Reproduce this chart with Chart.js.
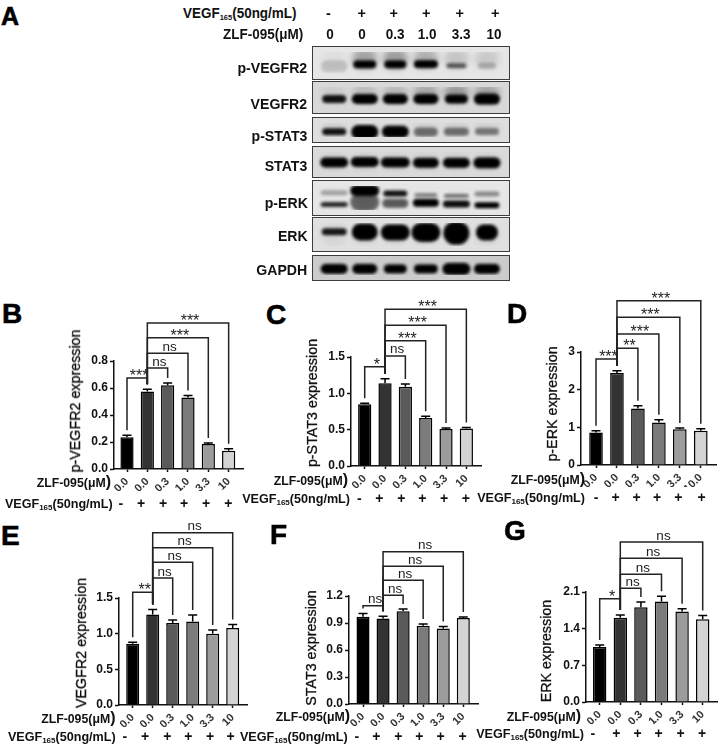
<!DOCTYPE html>
<html>
<head>
<meta charset="utf-8">
<script src="https://cdn.jsdelivr.net/npm/chart.js@4"></script>
<style>
  html, body { margin: 0; padding: 0; background: #fff; }
  #page { position: relative; width: 719px; height: 745px; overflow: hidden; font-family: "Liberation Sans", Arial, sans-serif; color: #111; }
  #page canvas { position: absolute; }
  .t { position: absolute; white-space: nowrap; font-weight: bold; z-index: 2; }
  .t sub { font-size: 8px; vertical-align: -2px; line-height: 0; }
  .t span { font-size: 16px; line-height: 0; }
</style>
</head>
<body>
<div id="page"></div>
<script>
// shared categories
const lanes = [0, 1, 2, 3, 4, 5];
const doses = ['0.0', '0.0', '0.3', '1.0', '3.3', '10'];
const dosesD = ['0.0', '0.0', '0.3', '1.0', '3.3', '10.0'];
const signs = ['-', '+', '+', '+', '+', '+'];
const headerDoses = ['0', '0', '0.3', '1.0', '3.3', '10'];
const bracketFrom = [0, 1, 1, 1, 1];
const bracketTo = [1, 2, 3, 4, 5];

// bar values, error bars, y ticks, bracket heights and labels
const bValues = [0.235, 0.575, 0.62, 0.53, 0.185, 0.135];
const bErrors = [0.015, 0.015, 0.017, 0.015, 0.008, 0.015];
const bTicks = [0, 0.2, 0.4, 0.6, 0.8];
const bLevels = [0.675, 0.748, 0.857, 0.972, 1.081];
const bStars = ['***', 'ns', 'ns', '***', '***'];
const bSignAt = [-0.3, 0.69, 1.77, 2.81, 3.89, 4.98];

const cValues = [0.85, 1.14, 1.09, 0.66, 0.51, 0.515];
const cErrors = [0.015, 0.06, 0.04, 0.025, 0.012, 0.015];
const cTicks = [0, 0.5, 1, 1.5];
const cLevels = [1.367, 1.514, 1.725, 1.936, 2.156];
const cStars = ['*', 'ns', '***', '***', '***'];
const cSignAt = [-0.27, 0.72, 1.8, 2.83, 3.9, 4.98];

const dValues = [0.86, 2.44, 1.5, 1.13, 0.95, 0.91];
const dErrors = [0.05, 0.06, 0.07, 0.07, 0.03, 0.05];
const dTicks = [0, 1, 2, 3];
const dLevels = [2.814, 3.097, 3.478, 3.92, 4.363];
const dStars = ['***', '**', '***', '***', '***'];
const dSignAt = [0, 0.94, 1.94, 2.92, 3.93, 5.04];

const eValues = [0.86, 1.27, 1.15, 1.17, 1.0, 1.08];
const eErrors = [0.02, 0.07, 0.04, 0.09, 0.05, 0.05];
const eTicks = [0, 0.5, 1, 1.5];
const eLevels = [1.579, 1.78, 2.0, 2.206, 2.416];
const eStars = ['**', 'ns', 'ns', 'ns', 'ns'];
const eSignAt = [-0.39, 0.62, 1.73, 2.78, 3.87, 4.9];

const fValues = [0.97, 0.95, 1.03, 0.87, 0.84, 0.955];
const fErrors = [0.035, 0.025, 0.025, 0.018, 0.02, 0.012];
const fTicks = [0, 0.3, 0.6, 0.9, 1.2];
const fLevels = [1.093, 1.208, 1.375, 1.531, 1.691];
const fStars = ['ns', 'ns', 'ns', 'ns', 'ns'];
const fSignAt = [-0.31, 0.66, 1.76, 2.81, 3.87, 4.97];

const gValues = [1.05, 1.61, 1.81, 1.92, 1.73, 1.58];
const gErrors = [0.04, 0.05, 0.1, 0.1, 0.05, 0.07];
const gTicks = [0, 0.7, 1.4, 2.1];
const gLevels = [1.973, 2.17, 2.437, 2.743, 3.054];
const gStars = ['*', 'ns', 'ns', 'ns', 'ns'];
const gSignAt = [-0.33, 0.81, 1.84, 2.86, 3.93, 4.97];

// blot band intensities per lane
const pVegfr2Band = [0.16, 1, 1, 1, 0.6, 0.22];
const vegfr2Band = [0.92, 1, 1, 1, 1, 1];
const pStat3Band = [0.92, 1, 1, 0.5, 0.5, 0.45];
const stat3Band = [1, 1, 1, 1, 1, 1];
const pErkUpperBand = [0.3, 1, 0.92, 0.45, 0.5, 0.4];
const pErkLowerBand = [0.82, 0.55, 0.6, 1, 0.95, 1];
const erkBand = [0.9, 1, 1, 1, 1, 1];
const gapdhBand = [1, 1, 1, 1, 1, 1];

const barColors = ['#000000', '#333333', '#5a5a5a', '#7b7b7b', '#9c9c9f', '#d4d4d4'];
const page = document.getElementById('page');

function addText(html, x, y, size, extra) {
    let el = document.createElement('div');
    el.className = 't';
    el.innerHTML = html;
    el.style.cssText = 'top:' + y + 'px;font-size:' + size + 'px;transform:translateY(-50%);' + (extra || '');
    // negative x means: right edge sits at that page x
    if (x < 0) el.style.right = (719 + x) + 'px';
    else el.style.left = x + 'px';
    page.appendChild(el);
    return el;
}

// blurred band used as a point image
function bandImage(w, h, dark, blur) {
    let c = document.createElement('canvas');
    let pad = Math.ceil(blur * 3);
    c.width = w + pad * 2;
    c.height = h + pad * 2;
    let g = c.getContext('2d');
    g.filter = 'blur(' + blur + 'px)';
    g.fillStyle = 'rgba(0,0,0,' + dark + ')';
    g.beginPath();
    g.roundRect(pad, pad, w, h, Math.min(h / 2, w / 2));
    g.fill();
    return c;
}

function blotChart(row) {
    let canvas = document.createElement('canvas');
    canvas.width = 196;
    canvas.height = row.bottom - row.top;
    canvas.style.cssText = 'left:313px;top:' + row.top + 'px;background:' + row.bg + ';outline:1.5px solid #3c3c3c;';
    page.appendChild(canvas);
    let datasets = [{
        data: lanes.map(i => ({ x: i, y: row.smearY })),
        pointStyle: lanes.map(i => bandImage(25, row.smearH, row.smear[i], 3.5)),
    }];
    row.bands.forEach(b => {
        datasets.push({
            data: lanes.map(i => ({ x: i, y: b.y[i] })),
            pointStyle: lanes.map(i => bandImage(b.w[i] + 1, b.h[i] + 1, b.dark[i], 1.6)),
        });
    });
    new Chart(canvas, {
        type: 'scatter',
        data: { datasets: datasets },
        options: {
            responsive: false,
            animation: false,
            plugins: { legend: { display: false }, tooltip: { enabled: false } },
            scales: {
                x: { type: 'linear', display: false, min: -0.53, max: 5.56 },
                y: { type: 'linear', display: false, min: 0, max: 1, reverse: true },
            },
        },
    });
    addText(row.name, -307.5, row.labelY, 15, 'transform:translateY(-50%) scaleX(.94);transform-origin:right center;');
}

const same = v => lanes.map(() => v);
const blotRows = [
    { name: 'p-VEGFR2', top: 47, bottom: 79, labelY: 67, bg: '#e6e6e6', smear: [0.03, 0.3, 0.32, 0.24, 0.14, 0.12], smearY: 0.3, smearH: 20,
      bands: [{ y: [0.64, 0.56, 0.56, 0.55, 0.62, 0.62], dark: pVegfr2Band, w: [26, 22, 21, 23, 19, 17], h: [11, 7, 7, 7, 4, 5] }] },
    { name: 'VEGFR2', top: 82, bottom: 113, labelY: 103, bg: '#d8d8d8', smear: [0.06, 0.14, 0.16, 0.24, 0.3, 0.26], smearY: 0.3, smearH: 18,
      bands: [{ y: same(0.57), dark: vegfr2Band, w: [23, 25, 24, 24, 22, 25], h: [7, 9, 9, 9, 8, 10] }] },
    { name: 'p-STAT3', top: 118, bottom: 142, labelY: 135, bg: '#dedede', smear: same(0.06), smearY: 0.4, smearH: 18,
      bands: [{ y: [0.62, 0.64, 0.62, 0.64, 0.62, 0.6], dark: pStat3Band, w: [23, 26, 26, 23, 24, 23], h: [6, 13, 11, 8, 7, 6] }] },
    { name: 'STAT3', top: 147, bottom: 177, labelY: 165, bg: '#dadada', smear: same(0.06), smearY: 0.5, smearH: 18,
      bands: [{ y: [0.52, 0.5, 0.52, 0.54, 0.54, 0.54], dark: stat3Band, w: [27, 27, 28, 25, 26, 26], h: [9, 9, 9, 9, 9, 10] }] },
    { name: 'p-ERK', top: 181, bottom: 215, labelY: 201.5, bg: '#e6e6e6', smear: [0, 0.12, 0.04, 0.02, 0.02, 0.02], smearY: 0.6, smearH: 20,
      bands: [
        { y: [0.28, 0.19, 0.31, 0.38, 0.41, 0.33], dark: pErkUpperBand, w: [26, 28, 23, 22, 24, 24], h: [4, 10, 5, 3, 3, 4] },
        { y: [0.77, 0.67, 0.72, 0.7, 0.75, 0.8], dark: pErkLowerBand, w: [26, 28, 25, 25, 26, 24], h: [4, 17, 8, 7, 6, 5] },
      ] },
    { name: 'ERK', top: 218, bottom: 251, labelY: 235, bg: '#e0e0e0', smear: same(0.05), smearY: 0.5, smearH: 24,
      bands: [{ y: [0.38, 0.39, 0.41, 0.41, 0.44, 0.41], dark: erkBand, w: [24, 25, 28, 28, 25, 21], h: [6, 16, 15, 18, 22, 15] }] },
    { name: 'GAPDH', top: 256, bottom: 280, labelY: 269, bg: '#cccccc', smear: same(0.03), smearY: 0.5, smearH: 16,
      bands: [{ y: [0.56, 0.56, 0.56, 0.56, 0.56, 0.56], dark: gapdhBand, w: [26, 24, 22, 23, 27, 25], h: [9, 9, 8, 8, 11, 9] }] },
];
blotRows.forEach(blotChart);

// header of panel A
addText('VEGF<sub>165</sub>(50ng/mL)', 183, 12.7, 14.5, 'transform:translateY(-50%) scaleX(.93);transform-origin:left center;');
addText('ZLF-095(μM)', 223, 34.3, 14.5, 'transform:translateY(-50%) scaleX(.93);transform-origin:left center;');
const headerX = [330, 361.5, 393.5, 426, 459.5, 495];
headerX.forEach((x, i) => {
    addText(signs[i], x - 4, 12.7, 14.5);
    addText(headerDoses[i], x - (headerDoses[i].length > 1 ? 9 : 4), 34.3, 14.5, 'transform:translateY(-50%) scaleX(.93);');
});

function barPanel(p) {
    const T = p.yTop - 85;
    const L = p.axisX - 40;
    const R = p.xEnd + 2;
    const H = p.y0 + p.signGap + 12 - T;
    let canvas = document.createElement('canvas');
    canvas.width = R - L;
    canvas.height = H;
    canvas.style.left = L + 'px';
    canvas.style.top = T + 'px';
    page.appendChild(canvas);

    const min = (p.axisX - p.center0) / p.spacing;
    const max = (p.xEnd - p.center0) / p.spacing;

    // error bars and significance brackets
    const marks = {
        id: 'marks',
        afterDatasetsDraw(chart) {
            const x = chart.scales.x, y = chart.scales.y, ctx = chart.ctx;
            ctx.save();
            ctx.strokeStyle = '#000';
            ctx.lineWidth = 1.5;
            lanes.forEach(i => {
                let px = x.getPixelForValue(i), top = y.getPixelForValue(p.values[i] + p.errors[i]);
                ctx.beginPath();
                ctx.moveTo(px, y.getPixelForValue(p.values[i]));
                ctx.lineTo(px, top);
                ctx.moveTo(px - 4.5, top);
                ctx.lineTo(px + 4.5, top);
                ctx.stroke();
            });
            ctx.strokeStyle = '#222';
            ctx.fillStyle = '#222';
            ctx.textAlign = 'center';
            p.levels.forEach((level, k) => {
                let a = bracketFrom[k], b = bracketTo[k];
                let xa = x.getPixelForValue(a), xb = x.getPixelForValue(b), ly = y.getPixelForValue(level);
                let endA = y.getPixelForValue(p.values[a] + p.errors[a]) - 5;
                let endB = y.getPixelForValue(p.values[b] + p.errors[b]) - 5;
                ctx.beginPath();
                ctx.moveTo(xa, endA);
                ctx.lineTo(xa, ly);
                ctx.lineTo(xb, ly);
                ctx.lineTo(xb, endB);
                ctx.stroke();
                let isNs = p.stars[k] === 'ns';
                ctx.font = isNs ? '13.5px "Liberation Sans"' : '16px "Liberation Sans"';
                ctx.fillText(p.stars[k], (xa + xb) / 2 + 2, isNs ? ly - 2.5 : ly + 3);
            });
            ctx.restore();
        },
    };

    new Chart(canvas, {
        type: 'bar',
        data: {
            datasets: [{
                data: lanes.map(i => ({ x: i, y: p.values[i] })),
                backgroundColor: barColors,
                borderColor: '#000',
                borderWidth: 1.5,
                barPercentage: 0.65,
                categoryPercentage: 1,
            }],
        },
        plugins: [marks],
        options: {
            responsive: false,
            animation: false,
            layout: { autoPadding: false, padding: { top: p.yTop - T, right: 2 } },
            plugins: { legend: { display: false }, tooltip: { enabled: false } },
            scales: {
                y: {
                    min: 0,
                    max: p.ticks[p.ticks.length - 1],
                    afterFit: s => { s.width = 40; },
                    afterBuildTicks: s => { s.ticks = p.ticks.map(v => ({ value: v })); },
                    border: { color: '#111', width: 1.5 },
                    grid: { drawOnChartArea: false, tickLength: 4, tickColor: '#111', tickWidth: 1.5 },
                    ticks: {
                        padding: 2,
                        color: '#111',
                        font: { family: 'Liberation Sans', size: 12, weight: 'bold' },
                        callback: v => (p.digits ? v.toFixed(p.digits) : String(v)),
                    },
                },
                x: {
                    type: 'linear',
                    offset: false,
                    min: min,
                    max: max,
                    afterFit: s => { s.height = 22; },
                    afterBuildTicks: s => { s.ticks = lanes.map(v => ({ value: v })); },
                    border: { color: '#111', width: 1.5 },
                    grid: { offset: false, drawOnChartArea: false, tickLength: 3, tickColor: '#111', tickWidth: 1.5 },
                    ticks: {
                        padding: 3,
                        minRotation: 45,
                        maxRotation: 45,
                        autoSkip: false,
                        color: '#333',
                        font: { family: 'Liberation Sans', size: 11, weight: 'bold' },
                        callback: (v, i) => p.doses[i],
                    },
                },
                xSign: {
                    type: 'linear',
                    offset: false,
                    position: 'bottom',
                    min: min,
                    max: max,
                    afterFit: s => { s.height = p.signGap + 12 - 22; },
                    afterBuildTicks: s => { s.ticks = p.signAt.map(v => ({ value: v })); },
                    border: { display: false },
                    grid: { display: false, drawTicks: false, offset: false },
                    ticks: {
                        padding: p.signGap - 22 - 8,
                        maxRotation: 0,
                        autoSkip: false,
                        color: '#111',
                        font: { family: 'Liberation Sans', size: 14, weight: 'bold' },
                        callback: (v, i) => signs[i],
                    },
                },
            },
        },
    });

    // panel letter, row captions and y title
    addText(p.letter, p.letterX, p.letterY, 28, '-webkit-text-stroke:.6px #000;color:#000;');
    addText('ZLF-095(μM<span>)</span>', -p.zlfRight, p.zlfY, 12.3);
    addText('VEGF<sub>165</sub>(50ng/mL)', -p.vegfRight, p.vegfY, 12.6);
    let title = document.createElement('div');
    title.className = 't';
    title.textContent = p.title;
    title.style.cssText = 'left:' + p.titleX + 'px;top:' + p.titleY + 'px;font-size:14.3px;font-weight:normal;-webkit-text-stroke:.3px #111;transform:translate(-50%,-50%) rotate(-90deg);';
    page.appendChild(title);
}

const panels = [
    { letter: 'B', values: bValues, errors: bErrors, ticks: bTicks, levels: bLevels, stars: bStars, signAt: bSignAt, doses: doses, digits: 1,
      axisX: 114, y0: 469, yTop: 361, xEnd: 243, center0: 127, spacing: 20.33, signGap: 35,
      letterX: 2, letterY: 314, zlfRight: 111, zlfY: 482.5, vegfRight: 112.7, vegfY: 504, title: 'p-VEGFR2 expression', titleX: 75, titleY: 401 },
    { letter: 'C', values: cValues, errors: cErrors, ticks: cTicks, levels: cLevels, stars: cStars, signAt: cSignAt, doses: doses, digits: 1,
      axisX: 351, y0: 466, yTop: 357, xEnd: 481, center0: 364.7, spacing: 20.33, signGap: 33,
      letterX: 266, letterY: 315, zlfRight: 348, zlfY: 480.5, vegfRight: 350, vegfY: 499, title: 'p-STAT3 expression', titleX: 312.3, titleY: 403 },
    { letter: 'D', values: dValues, errors: dErrors, ticks: dTicks, levels: dLevels, stars: dStars, signAt: dSignAt, doses: dosesD, digits: 0,
      axisX: 581, y0: 465, yTop: 352, xEnd: 716, center0: 596, spacing: 20.96, signGap: 33,
      letterX: 507, letterY: 314, zlfRight: 585, zlfY: 480, vegfRight: 585, vegfY: 498.3, title: 'p-ERK expression', titleX: 551.7, titleY: 404 },
    { letter: 'E', values: eValues, errors: eErrors, ticks: eTicks, levels: eLevels, stars: eStars, signAt: eSignAt, doses: doses, digits: 1,
      axisX: 119, y0: 705, yTop: 598, xEnd: 247, center0: 132.7, spacing: 20, signGap: 32,
      letterX: 1, letterY: 536, zlfRight: 115.5, zlfY: 719, vegfRight: 115.7, vegfY: 737.3, title: 'VEGFR2 expression', titleX: 81, titleY: 643 },
    { letter: 'F', values: fValues, errors: fErrors, ticks: fTicks, levels: fLevels, stars: fStars, signAt: fSignAt, doses: doses, digits: 1,
      axisX: 349, y0: 704, yTop: 596, xEnd: 478, center0: 363, spacing: 20.06, signGap: 33,
      letterX: 270, letterY: 535, zlfRight: 350, zlfY: 716.7, vegfRight: 347.7, vegfY: 736.7, title: 'STAT3 expression', titleX: 311, titleY: 648 },
    { letter: 'G', values: gValues, errors: gErrors, ticks: gTicks, levels: gLevels, stars: gStars, signAt: gSignAt, doses: doses, digits: 1,
      axisX: 586, y0: 702, yTop: 592, xEnd: 717, center0: 599.7, spacing: 20.6, signGap: 32,
      letterX: 504, letterY: 531, zlfRight: 581, zlfY: 716.7, vegfRight: 584, vegfY: 734, title: 'ERK expression', titleX: 546, titleY: 651 },
];
addText('A', 1, 15.5, 25, '-webkit-text-stroke:.6px #000;color:#000;');
panels.forEach(barPanel);
</script>
</body>
</html>
